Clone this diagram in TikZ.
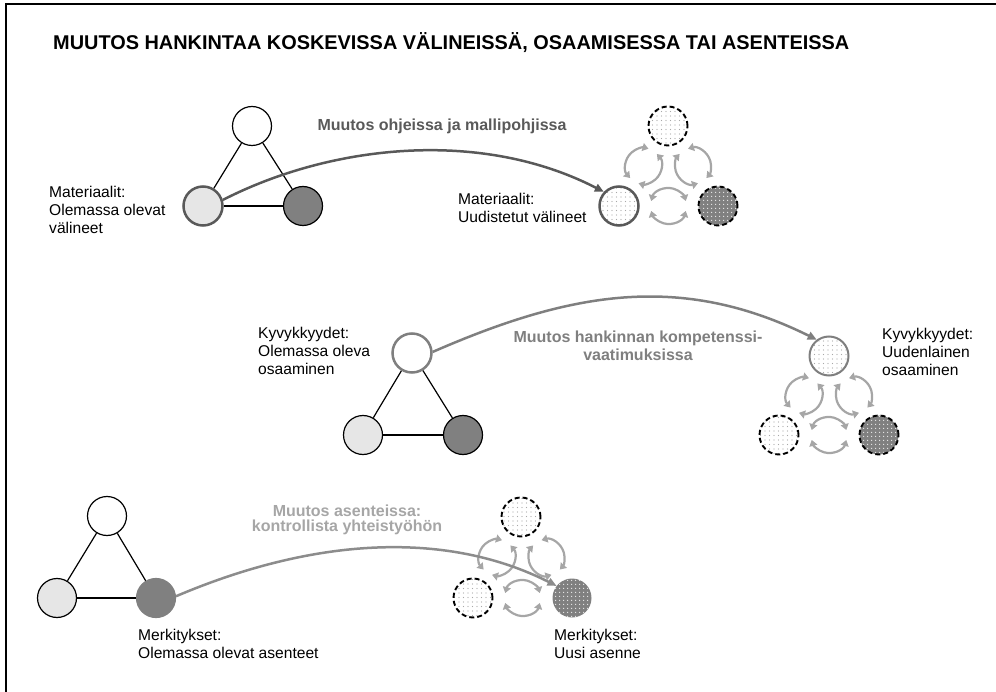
\documentclass[tikz,border=0pt]{standalone}
\usepackage{fontspec}
\setmainfont{Liberation Sans}
\usetikzlibrary{arrows.meta,patterns.meta,calc}
\definecolor{lightfill}{HTML}{E6E6E6}
\definecolor{darkfill}{HTML}{808080}
\definecolor{inkA}{HTML}{595959}
\definecolor{inkB}{HTML}{7F7F7F}
\definecolor{inkC}{HTML}{8C8C8C}
\definecolor{labelC}{HTML}{A6A6A6}
\definecolor{cyclegray}{HTML}{A6A6A6}
\definecolor{dotgray}{HTML}{A8A8A8}
\definecolor{dotwhite}{HTML}{ECECEC}

\tikzset{
  ball/.style={circle, minimum size=39pt, inner sep=0pt, draw=black, line width=1.2pt},
  whiteball/.style={ball, fill=white},
  lightball/.style={ball, fill=lightfill},
  darkball/.style={ball, fill=darkfill},
  dotlight/.style={circle, minimum size=39pt, inner sep=0pt, preaction={fill=white},
    pattern={Dots[distance=4.5pt,radius=0.6pt]}, pattern color=dotgray},
  dotdark/.style={circle, minimum size=39pt, inner sep=0pt, preaction={fill=darkfill},
    pattern={Dots[distance=4pt,radius=0.8pt]}, pattern color=dotwhite},
  dashedrim/.style={draw=black, line width=1.9pt, dash pattern=on 5pt off 3pt},
  tri/.style={draw=black, line width=1.2pt},
  cycarrow/.style={draw=cyclegray, line width=2.2pt,
    {Triangle[length=6pt,width=8pt]}-{Triangle[length=6pt,width=8pt]}},
  cyc/.pic={
    \draw[cycarrow] (#1+16:18) arc[start angle=#1+16, end angle=#1+164, radius=18];
    \draw[cycarrow] (#1+196:18) arc[start angle=#1+196, end angle=#1+344, radius=18];
  },
  flowA/.style={draw=inkA, line width=2.5pt, -{Triangle[length=9pt,width=8pt]}},
  flowB/.style={draw=inkB, line width=2.5pt, -{Triangle[length=9pt,width=8pt]}},
  flowC/.style={draw=inkC, line width=2.5pt, -{Triangle[length=9pt,width=8pt]}},
  lbl/.style={font=\fontsize{15.6}{18}\selectfont, align=left, inner sep=0pt, anchor=north west},
  change/.style={font=\bfseries\fontsize{16}{18}\selectfont, align=center, inner sep=0pt, anchor=north},
  heading/.style={font=\bfseries\fontsize{19.9}{23}\selectfont, inner sep=0pt, anchor=base west}
}

\begin{document}
\begin{tikzpicture}[x=1pt,y=-1pt]
\useasboundingbox (0,0) rectangle (996,692);

% frame
\draw[line width=1.8pt] (6,692) -- (6,4) -- (996,4);

% heading
\node[heading] (title) at (53,50) {MUUTOS HANKINTAA KOSKEVISSA VÄLINEISSÄ, OSAAMISESSA TAI ASENTEISSA};

% ---------- materials ----------
\node[whiteball] (o1t) at (252,126) {};
\node[lightball, draw=inkA, line width=2.5pt] (o1l) at (203,206) {};
\node[darkball] (o1r) at (303,206) {};
\draw[tri] (o1t) -- (o1l);
\draw[tri] (o1t) -- (o1r);
\draw[tri] (o1l) -- (o1r);

\node[dotlight, dashedrim] (n1t) at (668,126) {};
\node[dotlight, draw=inkA, line width=2.5pt] (n1l) at (619,206) {};
\node[dotdark, dashedrim] (n1r) at (718,206) {};
\pic at ($(n1t)!0.5!(n1l)$) {cyc=-58};
\pic at ($(n1t)!0.5!(n1r)$) {cyc=-122};
\pic at ($(n1l)!0.5!(n1r)$) {cyc=0};

\node[lbl] (l1a) at (49,185.5) {Materiaalit:\\Olemassa olevat\\välineet};
\node[lbl] (l1b) at (458,193) {Materiaalit:\\Uudistetut välineet};
\node[change, text=inkA] (c1) at (442,118.5) {Muutos ohjeissa ja mallipohjissa};

\draw[flowA] (o1l.17) .. controls (330,145) and (480,128) .. (n1l.137);

% ---------- capabilities ----------
\node[whiteball, draw=inkB, line width=2.5pt] (o2t) at (412,353) {};
\node[lightball] (o2l) at (363,435) {};
\node[darkball] (o2r) at (463,435) {};
\draw[tri] (o2t) -- (o2l);
\draw[tri] (o2t) -- (o2r);
\draw[tri] (o2l) -- (o2r);

\node[dotlight, draw=inkB, line width=2pt] (n2t) at (829,356) {};
\node[dotlight, dashedrim] (n2l) at (779,435) {};
\node[dotdark, dashedrim] (n2r) at (879,435) {};
\pic at ($(n2t)!0.5!(n2l)$) {cyc=-58};
\pic at ($(n2t)!0.5!(n2r)$) {cyc=-122};
\pic at ($(n2l)!0.5!(n2r)$) {cyc=0};

\node[lbl] (l2a) at (258,327) {Kyvykkyydet:\\Olemassa oleva\\osaaminen};
\node[lbl] (l2b) at (882,327.5) {Kyvykkyydet:\\Uudenlainen\\osaaminen};
\node[change, text=inkB] (c2) at (638,330.5) {Muutos hankinnan kompetenssi-\\vaatimuksissa};

\draw[flowB] (o2t.3) .. controls (570,292) and (680,272) .. (n2t.127);

% ---------- meanings ----------
\node[whiteball] (o3t) at (107,516) {};
\node[lightball] (o3l) at (57,598) {};
\node[darkball, draw=darkfill] (o3r) at (156,598) {};
\draw[tri] (o3t) -- (o3l);
\draw[tri] (o3t) -- (o3r);
\draw[tri] (o3l) -- (o3r);

\node[dotlight, dashedrim] (n3t) at (521,517) {};
\node[dotlight, dashedrim] (n3l) at (473,598) {};
\node[dotdark] (n3r) at (572,598) {};
\pic at ($(n3t)!0.5!(n3l)$) {cyc=-58};
\pic at ($(n3t)!0.5!(n3r)$) {cyc=-122};
\pic at ($(n3l)!0.5!(n3r)$) {cyc=0};

\node[lbl] (l3a) at (138,628.5) {Merkitykset:\\Olemassa olevat asenteet};
\node[lbl] (l3b) at (554,628.5) {Merkitykset:\\Uusi asenne};
\node[change, text=labelC, font=\bfseries\fontsize{16}{15}\selectfont] (c3) at (347,505) {Muutos asenteissa:\\kontrollista yhteistyöhön};

\draw[flowC] (o3r.5) .. controls (320,535) and (450,532) .. (n3r.142);
\end{tikzpicture}
\end{document}
